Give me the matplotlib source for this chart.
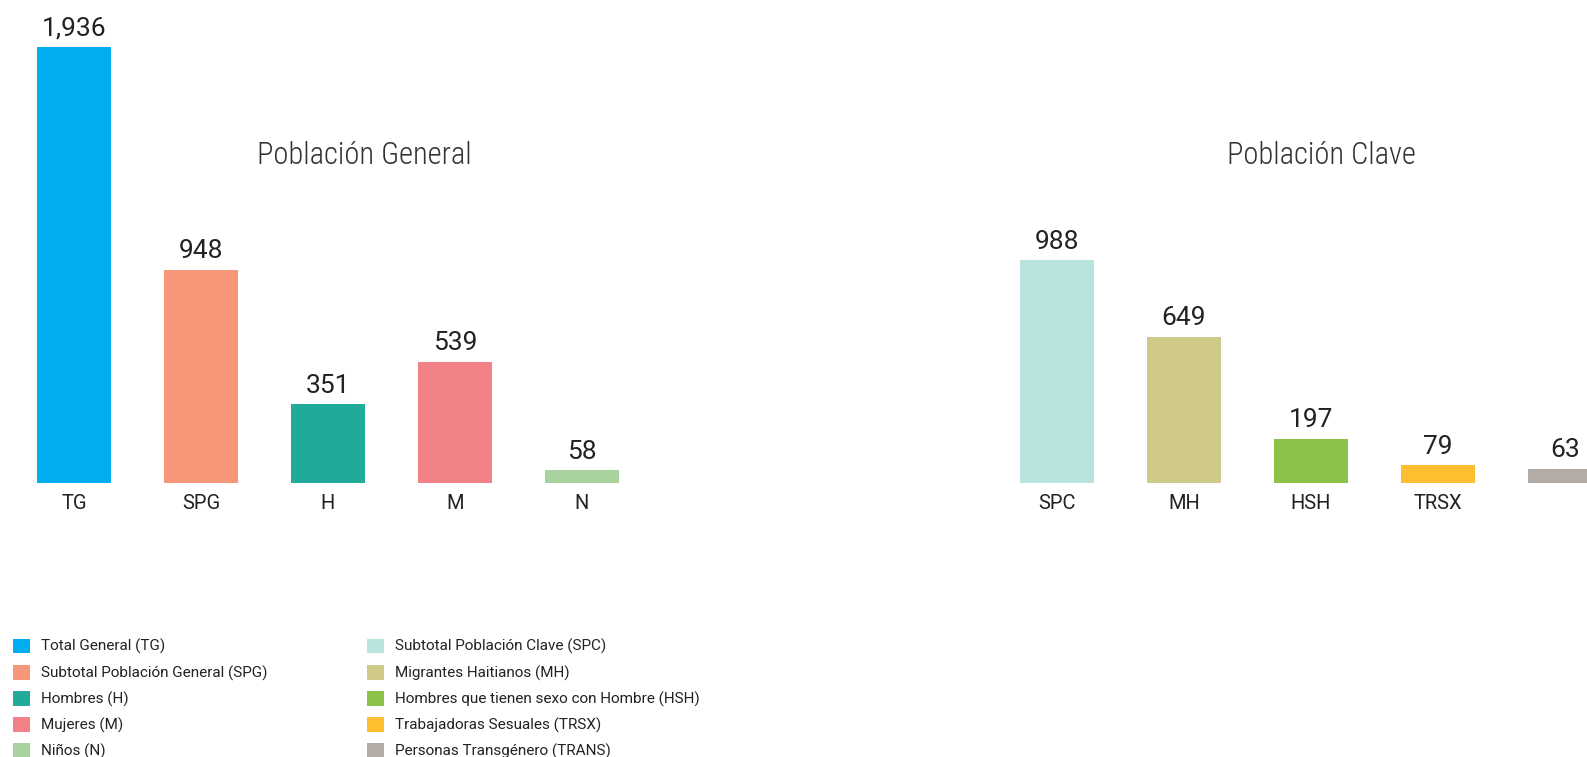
import matplotlib
matplotlib.use("Agg")
import matplotlib.pyplot as plt
import numpy as np
from matplotlib.patches import Patch

# ---- data ----
general_codes = ["TG", "SPG", "H", "M", "N"]
general_values = [1936, 948, 351, 539, 58]
general_names = ["Total General (TG)", "Subtotal Población General (SPG)",
                 "Hombres (H)", "Mujeres (M)", "Niños (N)"]
general_colors = ["#00AEEF", "#F7977A", "#21A99A", "#F38288", "#A7D29D"]

clave_codes = ["SPC", "MH", "HSH", "TRSX", "TRANS"]
clave_values = [988, 649, 197, 79, 63]
clave_names = ["Subtotal Población Clave (SPC)", "Migrantes Haitianos (MH)",
               "Hombres que tienen sexo con Hombre (HSH)",
               "Trabajadoras Sesuales (TRSX)", "Personas Transgénero (TRANS)"]
clave_colors = ["#B9E3DF", "#CFC98A", "#8BC34A", "#FDBE30", "#B5ACA6"]

group_titles = ["Población General", "Población Clave"]

# ---- layout ----
W, H = 1587, 757
fig = plt.figure(figsize=(W / 100, H / 100), dpi=100)
fig.patch.set_facecolor("white")

base_font = ["Roboto", "DejaVu Sans"]
title_font = ["Roboto Condensed", "Liberation Sans Narrow", "DejaVu Sans"]
txt_color = "#222222"

baseline_px = 483
ax = fig.add_axes([0, (H - baseline_px) / H, 1, baseline_px / H])

spacing = 127.0
first_center = 74.0
gap_offset = 7.74
bar_w = 74 / spacing

x_gen = np.arange(len(general_codes), dtype=float)
x_cla = gap_offset + np.arange(len(clave_codes), dtype=float)

b1 = ax.bar(x_gen, general_values, width=bar_w, color=general_colors)
b2 = ax.bar(x_cla, clave_values, width=bar_w, color=clave_colors)

for bars in (b1, b2):
    ax.bar_label(bars, labels=[f"{v:,.0f}" for v in bars.datavalues],
                 padding=4.6, fontsize=19, color=txt_color, family=base_font)

left_lim = -first_center / spacing
right_lim = (W - first_center) / spacing
ax.set_xlim(left_lim, right_lim)
px_per_unit = 436 / 1936
ax.set_ylim(0, baseline_px / px_per_unit)

ax.set_xticks(np.concatenate([x_gen, x_cla]))
ax.set_xticklabels(general_codes + clave_codes, fontsize=14.5,
                   color=txt_color, family=base_font)
ax.get_xticklabels()[-1].set_visible(False)
ax.tick_params(axis="x", length=0, pad=8)
ax.set_yticks([])
for s in ax.spines.values():
    s.set_visible(False)

# group titles
fig.text(364 / W, 1 - 156 / H, group_titles[0], ha="center", va="center",
         fontsize=22, color="#333333", family=title_font, fontweight="light")
fig.text(1321 / W, 1 - 156 / H, group_titles[1], ha="center", va="center",
         fontsize=22, color="#333333", family=title_font, fontweight="light")

# legends
fs = 11
fs_px = fs * 100 / 72
def make_legend(names, colors, x_px):
    handles = [Patch(facecolor=c, edgecolor="none") for c in colors]
    leg = fig.legend(handles, names, loc="upper left",
                     bbox_to_anchor=(x_px / W, 1 - 638.5 / H),
                     bbox_transform=fig.transFigure,
                     frameon=False, borderpad=0, borderaxespad=0,
                     handlelength=17 / fs_px, handleheight=17 / fs_px,
                     handletextpad=11 / fs_px, labelspacing=0.67,
                     prop={"family": base_font, "size": fs})
    for t in leg.get_texts():
        t.set_color("#222222")
    return leg

make_legend(general_names, general_colors, 13)
make_legend(clave_names, clave_colors, 367)

fig.savefig("out.png", dpi=100, facecolor="white")
